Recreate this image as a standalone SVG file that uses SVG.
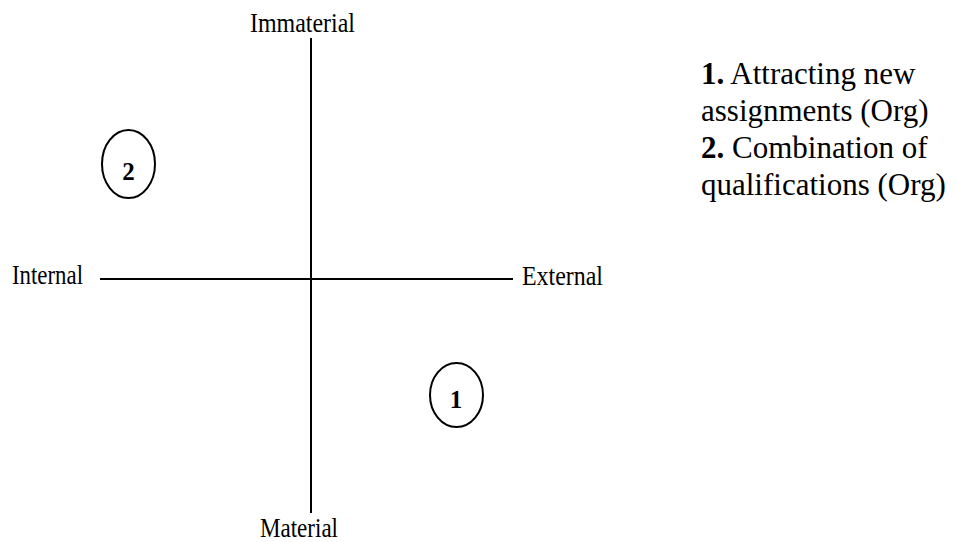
<svg xmlns="http://www.w3.org/2000/svg" width="957" height="542" viewBox="0 0 957 542">
<style>
.ax{font-family:"Liberation Serif","Times New Roman",serif;font-size:28px;fill:#000}
.lg{font-family:"Liberation Serif","Times New Roman",serif;font-size:31px;fill:#000}
.num{font-family:"Liberation Serif","Times New Roman",serif;font-size:25px;font-weight:bold;fill:#000}
.ln{stroke:#000;stroke-width:2;fill:none}
</style>
<rect width="957" height="542" fill="#fff"/>
<g id="axes">
<line class="ln" x1="311" y1="38" x2="311" y2="513"/>
<line class="ln" x1="100" y1="279" x2="513" y2="279"/>
</g>
<g id="labels">
<text class="ax" x="250" y="32" textLength="105" lengthAdjust="spacingAndGlyphs">Immaterial</text>
<text class="ax" x="12" y="284" textLength="71" lengthAdjust="spacingAndGlyphs">Internal</text>
<text class="ax" x="522" y="285" textLength="81" lengthAdjust="spacingAndGlyphs">External</text>
<text class="ax" x="260" y="537" textLength="78" lengthAdjust="spacingAndGlyphs">Material</text>
</g>
<g id="node2">
<ellipse class="ln" cx="128.5" cy="164" rx="26.5" ry="34"/>
<text class="num" x="128.5" y="180" text-anchor="middle">2</text>
</g>
<g id="node1">
<ellipse class="ln" cx="456.5" cy="395" rx="26.5" ry="32"/>
<text class="num" x="456" y="408" text-anchor="middle">1</text>
</g>
<g id="legend">
<text class="lg" x="701" y="84"><tspan font-weight="bold">1.</tspan> Attracting new</text>
<text class="lg" x="701" y="121">assignments (Org)</text>
<text class="lg" x="701" y="158"><tspan font-weight="bold">2.</tspan> Combination of</text>
<text class="lg" x="701" y="195">qualifications (Org)</text>
</g>
</svg>
